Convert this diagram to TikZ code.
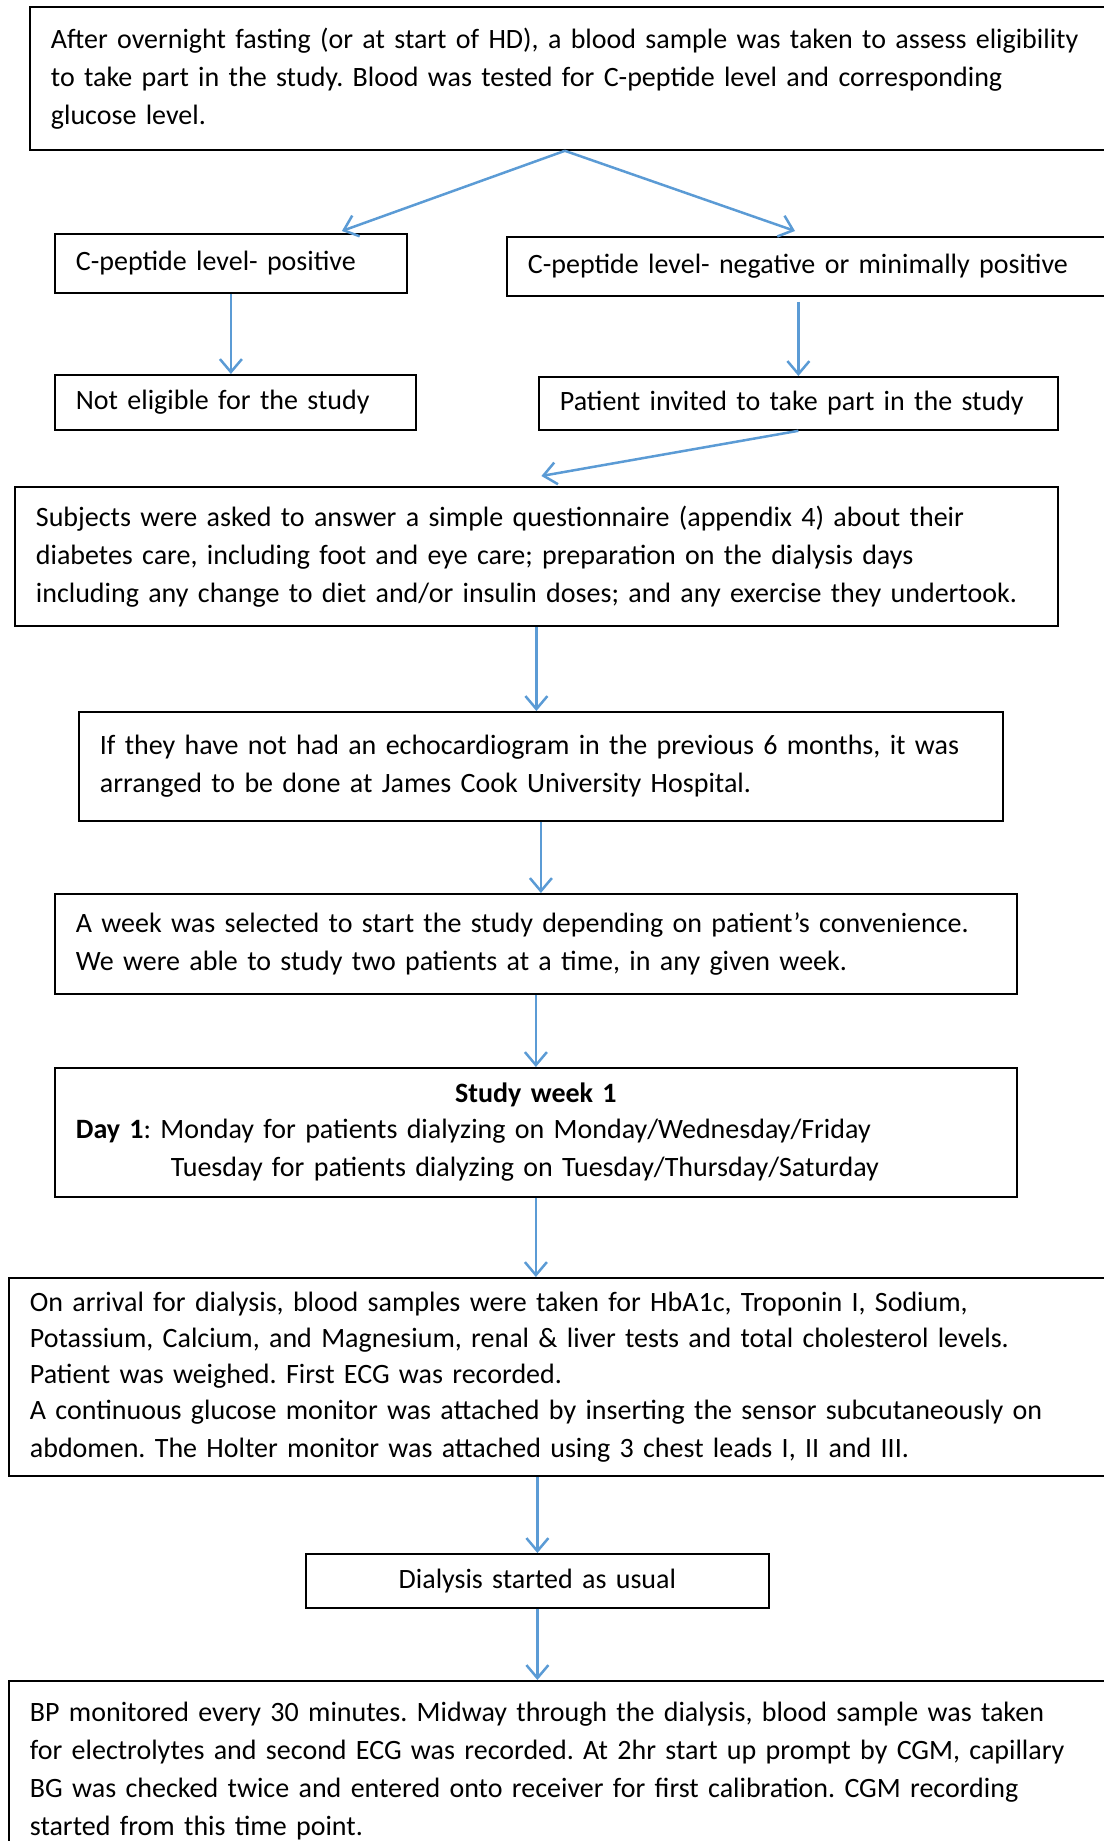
\documentclass[tikz,border=0pt]{standalone}
\usepackage{fontspec}
\setmainfont{Carlito}
\usetikzlibrary{arrows.meta}
\definecolor{flowblue}{RGB}{91,155,213}
\newcommand\stage[5]{\node[stage,text width=#3,minimum height=#4] (#1) at (#2) {#5};}
\newcommand\flow[2]{\draw[flow] (#1) -- (#2);}
\frenchspacing

\begin{document}
\begin{tikzpicture}[x=1pt,y=-1pt]
\tikzstyle{stage}=[draw,line width=1.8pt,anchor=north west,align=left,inner xsep=21pt,inner ysep=0pt,font=\fontsize{28}{38}\selectfont]
\tikzstyle{flow}=[flowblue,line width=2.5pt,-{Straight Barb[length=13pt,width=22pt]}]
\useasboundingbox (0,0) rectangle (1103,1841);

\stage{b1}{29,6}{1060pt}{143pt}{After overnight fasting (or at start of HD), a blood sample was taken to assess eligibility\\ to take part in the study. Blood was tested for C-peptide level and corresponding\\ glucose level.}
\stage{b2}{54,233}{310pt}{59pt}{C-peptide level- positive}
\stage{b3}{506,236}{580pt}{59pt}{C-peptide level- negative or minimally positive}
\stage{b4}{54,374}{319pt}{55pt}{Not eligible for the study}
\stage{b5}{538,376}{477pt}{53pt}{Patient invited to take part in the study}
\stage{b6}{14,486}{1001pt}{139pt}{Subjects were asked to answer a simple questionnaire (appendix 4) about their\\ diabetes care, including foot and eye care; preparation on the dialysis days\\ including any change to diet and/or insulin doses; and any exercise they undertook.}
\stage{b7}{78,711}{882pt}{109pt}{If they have not had an echocardiogram in the previous 6 months, it was\\ arranged to be done at James Cook University Hospital.}
\stage{b8}{54,893}{920pt}{100pt}{A week was selected to start the study depending on patient’s convenience.\\ We were able to study two patients at a time, in any given week.}
\stage{b9}{54,1067}{920pt}{129pt}{\fontsize{28}{36}\selectfont\makebox[\linewidth][c]{\textbf{Study week 1}}\\ \textbf{Day 1}: Monday for patients dialyzing on Monday/Wednesday/Friday\\ \hspace*{95pt}Tuesday for patients dialyzing on Tuesday/Thursday/Saturday}
\stage{b10}{8,1277}{1080pt}{198pt}{\fontsize{28}{36}\selectfont On arrival for dialysis, blood samples were taken for HbA1c, Troponin I, Sodium,\\ Potassium, Calcium, and Magnesium, renal \& liver tests and total cholesterol levels.\\ Patient was weighed. First ECG was recorded.\\ A continuous glucose monitor was attached by inserting the sensor subcutaneously on\\ abdomen. The Holter monitor was attached using 3 chest leads I, II and III.}
\node[stage,align=center,text width=421pt,minimum height=54pt] (b11) at (305,1553) {Dialysis started as usual};
\stage{b12}{8,1680}{1080pt}{180pt}{BP monitored every 30 minutes. Midway through the dialysis, blood sample was taken\\ for electrolytes and second ECG was recorded. At 2hr start up prompt by CGM, capillary\\ BG was checked twice and entered onto receiver for first calibration. CGM recording\\ started from this time point.}

%% connections

\flow{[xshift=-16pt]b1.south}{[xshift=111pt,yshift=2pt]b2.north}
\flow{[xshift=-16pt]b1.south}{[xshift=289pt,yshift=5pt]b3.north west}
\flow{b2.south}{b2.south |- b4.north}
\flow{[yshift=-5pt]b3.south -| b5.north}{b5.north}
\flow{b5.south}{[xshift=5pt,yshift=10pt]b6.north}
\flow{b6.south}{b6.south |- b7.north}
\flow{b7.south}{b7.south |- b8.north}
\flow{b8.south}{b9.north}
\flow{b9.south}{b9.south |- b10.north}
\flow{b10.south -| b11.north}{b11.north}
\flow{b11.south}{b11.south |- b12.north}
\end{tikzpicture}
\end{document}
